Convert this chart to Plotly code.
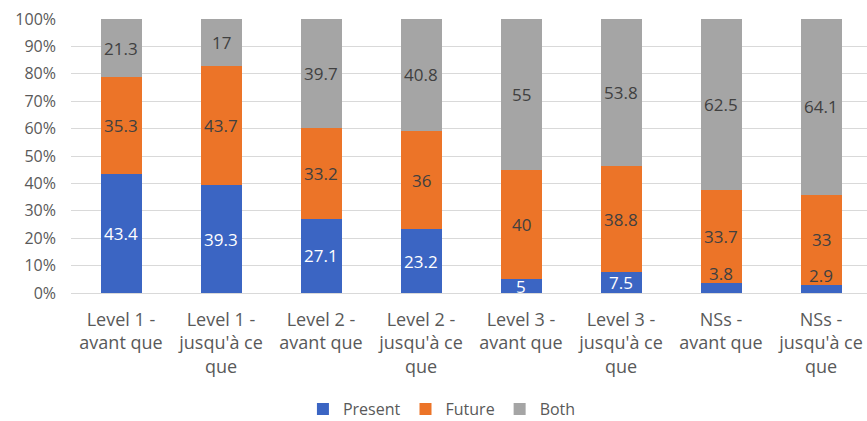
import plotly.graph_objects as go

categories = [
    "Level 1 -<br>avant que",
    "Level 1 -<br>jusqu'à ce<br>que",
    "Level 2 -<br>avant que",
    "Level 2 -<br>jusqu'à ce<br>que",
    "Level 3 -<br>avant que",
    "Level 3 -<br>jusqu'à ce<br>que",
    "NSs -<br>avant que",
    "NSs -<br>jusqu'à ce<br>que",
]
present = [43.4, 39.3, 27.1, 23.2, 5, 7.5, 3.8, 2.9]
future = [35.3, 43.7, 33.2, 36, 40, 38.8, 33.7, 33]
both = [21.3, 17, 39.7, 40.8, 55, 53.8, 62.5, 64.1]

FONT = "Open Sans"
DARK = "#404040"
AXIS = "#595959"
LABEL_SIZE = 17

series = [
    ("Present", present, "#3b65c3"),
    ("Future", future, "#ec7428"),
    ("Both", both, "#a5a5a5"),
]

fig = go.Figure()
for name, vals, color in series:
    fig.add_trace(go.Bar(
        name=name,
        x=categories,
        y=vals,
        marker=dict(color=color, line=dict(width=0)),
        width=0.41,
    ))

# Data labels drawn on top of every segment, centred in the segment.
# The two thinnest blue segments get their label sitting just above them.
base = [0.0] * len(categories)
for name, vals, color in series:
    for i, (cat, v) in enumerate(zip(categories, vals)):
        thin = name == "Present" and v < 4
        if thin:
            y, anchor, shift = base[i] + v, "bottom", -4
            col = DARK
        else:
            y, anchor, shift = base[i] + v / 2, "middle", 0
            col = "white" if name == "Present" else DARK
        fig.add_annotation(
            x=cat, y=y, xref="x", yref="y",
            text=f"{v:g}", showarrow=False,
            yanchor=anchor, yshift=shift,
            font=dict(family=FONT, size=LABEL_SIZE, color=col),
        )
        base[i] += v

fig.update_layout(
    width=867,
    height=421,
    margin=dict(l=71, r=0, t=19, b=128, autoexpand=False),
    barmode="stack",
    plot_bgcolor="white",
    paper_bgcolor="white",
    font=dict(family=FONT, color=AXIS),
    showlegend=True,
    legend=dict(
        orientation="h",
        traceorder="normal",
        x=0.466,
        xanchor="center",
        yref="container",
        y=0.028,
        yanchor="middle",
        font=dict(family=FONT, size=16, color=AXIS),
        itemwidth=30,
    ),
)
fig.update_xaxes(
    range=[-0.5, 7.46],
    automargin=False,
    showgrid=False,
    showline=False,
    ticks="",
    tickfont=dict(family=FONT, size=18, color=AXIS),
    ticklabelstandoff=14,
)
fig.update_yaxes(
    range=[0, 100],
    dtick=10,
    ticksuffix="%",
    automargin=False,
    showgrid=True,
    gridcolor="#d9d9d9",
    gridwidth=1,
    zeroline=True,
    zerolinecolor="#d9d9d9",
    zerolinewidth=1,
    showline=False,
    ticks="",
    tickfont=dict(family=FONT, size=16, color=AXIS),
    ticklabelstandoff=14,
)

fig.write_html("out.html")
